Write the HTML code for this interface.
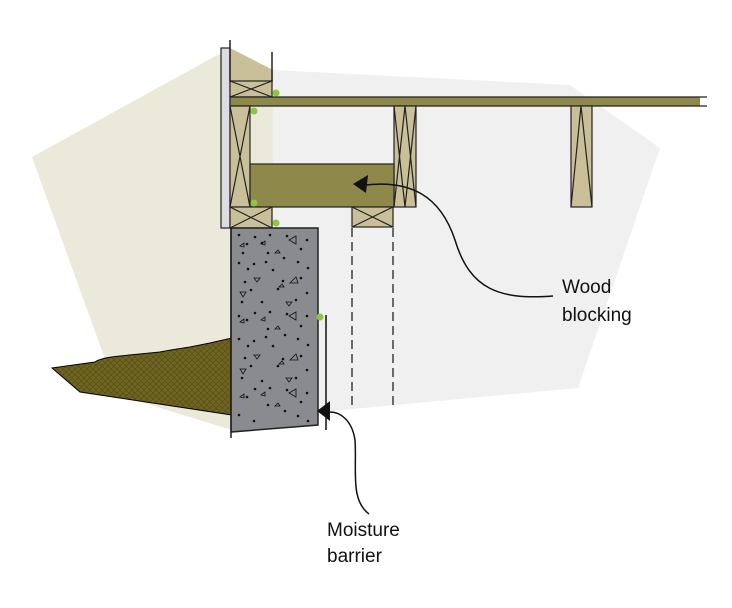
<!DOCTYPE html>
<html><head><style>html,body{margin:0;padding:0;background:#fff;}svg{display:block}</style></head>
<body>
<svg width="732" height="608" viewBox="0 0 732 608" xmlns="http://www.w3.org/2000/svg">
<defs>
<pattern id="ground" width="6" height="6" patternUnits="userSpaceOnUse">
<rect width="6" height="6" fill="#6f6520"/>
<path d="M0 6L6 0M0 0L6 6" stroke="#5a5118" stroke-width="0.8"/>
</pattern>
</defs>
<polygon points="32,157 230,48 275,72 275,400 232,430 118,395" fill="#ebe9da"/>
<polygon points="273,70 570,85 660,148 578,388 320,412 273,412" fill="#eff0ef"/>
<polygon points="230,48 273,70 273,82 230,82" fill="#c9c09a"/>
<path d="M52,368 L95,362 Q100,358 120,356 L160,352 Q170,350 190,347 L210,343 L232,338 L232,415 L80,392 Z" fill="url(#ground)" stroke="#000" stroke-width="1"/>
<rect x="221" y="48" width="9" height="180" fill="#dcdde0" stroke="#222" stroke-width="1.2"/>
<line x1="230" y1="40" x2="230" y2="82" stroke="#222" stroke-width="1.5"/>
<line x1="272" y1="52" x2="272" y2="82" stroke="#222" stroke-width="1.5"/>
<g stroke="#222" stroke-width="1.2" fill="#c9c09a">
<rect x="230" y="81" width="42" height="16"/><path d="M230,81L272,97M272,81L230,97" fill="none"/>
<rect x="230" y="97" width="470" height="9" fill="#8f884b" stroke="none"/>
<path d="M230,97L707,97M230,106L707,106M230,97L230,106" fill="none"/>
<rect x="230" y="106" width="20" height="101"/><path d="M230,106L250,207M250,106L230,207" fill="none"/>
<rect x="394" y="106" width="22" height="101"/><path d="M394,207L405,106L416,207" fill="none"/>
<path d="M394,106L405,207L416,106" fill="none"/>
<rect x="571" y="106" width="21" height="101"/><path d="M571,207L581,106L592,207" fill="none"/>
<rect x="250" y="164" width="144" height="43" fill="#8f884b"/>
<rect x="230" y="207" width="42" height="21"/><path d="M230,207L272,228M272,207L230,228" fill="none"/>
<rect x="352" y="207" width="41" height="20"/><path d="M352,207L393,227M393,207L352,227" fill="none"/>
</g>
<g stroke="#222" stroke-width="1.3" stroke-dasharray="9,5">
<line x1="352" y1="228" x2="352" y2="405"/><line x1="393" y1="228" x2="393" y2="408"/>
</g>
<path d="M231,228 L318,228 L318,425 L231,432 Z" fill="#8a8b8e" stroke="#222" stroke-width="1.5"/>
<line x1="231" y1="228" x2="231" y2="438" stroke="#222" stroke-width="1.5"/>
<g fill="#111" transform="translate(0,0)">
<circle cx="239" cy="235" r="1.3"/><circle cx="255" cy="237" r="1.3"/><circle cx="270" cy="235" r="1.3"/><circle cx="287" cy="236" r="1.3"/><circle cx="307" cy="240" r="1.3"/>
<circle cx="247" cy="244" r="1.3"/><circle cx="262" cy="243" r="1.3"/><circle cx="301" cy="249" r="1.3"/><circle cx="243" cy="253" r="1.3"/><circle cx="268" cy="253" r="1.3"/><circle cx="284" cy="258" r="1.3"/>
<circle cx="239" cy="263" r="1.3"/><circle cx="254" cy="264" r="1.3"/><circle cx="266" cy="262" r="1.3"/><circle cx="298" cy="262" r="1.3"/><circle cx="248" cy="269" r="1.3"/><circle cx="273" cy="270" r="1.3"/><circle cx="308" cy="268" r="1.3"/>
<circle cx="245" cy="282" r="1.3"/><circle cx="283" cy="281" r="1.3"/><circle cx="301" cy="278" r="1.3"/><circle cx="251" cy="290" r="1.3"/><circle cx="278" cy="289" r="1.3"/><circle cx="307" cy="293" r="1.3"/>
<circle cx="242" cy="302" r="1.3"/><circle cx="262" cy="302" r="1.3"/><circle cx="296" cy="300" r="1.3"/><circle cx="255" cy="313" r="1.3"/><circle cx="270" cy="312" r="1.3"/><circle cx="287" cy="314" r="1.3"/><circle cx="307" cy="316" r="1.3"/>
<circle cx="239" cy="316" r="1.3"/><circle cx="247" cy="320" r="1.3"/><circle cx="301" cy="326" r="1.3"/><circle cx="268" cy="329" r="1.3"/><circle cx="285" cy="335" r="1.3"/>
<circle cx="239" cy="339" r="1.3"/><circle cx="254" cy="341" r="1.3"/><circle cx="266" cy="337" r="1.3"/><circle cx="298" cy="339" r="1.3"/><circle cx="248" cy="346" r="1.3"/><circle cx="273" cy="346" r="1.3"/><circle cx="308" cy="345" r="1.3"/>
<circle cx="245" cy="358" r="1.3"/><circle cx="283" cy="359" r="1.3"/><circle cx="301" cy="356" r="1.3"/><circle cx="251" cy="366" r="1.3"/><circle cx="278" cy="366" r="1.3"/><circle cx="307" cy="370" r="1.3"/>
<circle cx="242" cy="378" r="1.3"/><circle cx="262" cy="381" r="1.3"/><circle cx="296" cy="378" r="1.3"/><circle cx="255" cy="389" r="1.3"/><circle cx="270" cy="388" r="1.3"/><circle cx="287" cy="390" r="1.3"/><circle cx="307" cy="393" r="1.3"/>
<circle cx="247" cy="397" r="1.3"/><circle cx="301" cy="402" r="1.3"/><circle cx="268" cy="405" r="1.3"/><circle cx="285" cy="411" r="1.3"/><circle cx="239" cy="415" r="1.3"/><circle cx="254" cy="421" r="1.3"/><circle cx="298" cy="416" r="1.3"/><circle cx="308" cy="421" r="1.3"/>
</g>
<g fill="none" stroke="#111" stroke-width="0.8">
<path d="M240,246l4,-3l0,4z"/><path d="M261,244l4,-3l0,4z"/><path d="M289,240l7,-4l0,8z"/><path d="M275,253l3,-3l2,3z"/><path d="M290,283l6,-6l2,6z"/><path d="M254,278l6,0l-3,4z"/><path d="M240,292l6,0l-3,5z"/><path d="M279,287l3,-3l2,3z"/><path d="M286,302l6,0l-3,4z"/>
<path d="M240,322l4,-3l0,4z"/><path d="M261,320l4,-3l0,4z"/><path d="M289,316l7,-4l0,8z"/><path d="M275,329l3,-3l2,3z"/><path d="M290,360l6,-6l2,6z"/><path d="M254,355l6,0l-3,4z"/><path d="M240,369l6,0l-3,5z"/><path d="M279,364l3,-3l2,3z"/><path d="M286,378l6,0l-3,4z"/>
<path d="M240,397l4,-3l0,4z"/><path d="M261,395l4,-3l0,4z"/><path d="M289,393l7,-4l0,8z"/><path d="M275,406l3,-3l2,3z"/>
</g>
<line x1="326" y1="315" x2="326" y2="430" stroke="#111" stroke-width="1.5"/>
<g fill="#8dc63f">
<circle cx="276" cy="93" r="3.5"/><circle cx="254" cy="111" r="3.5"/><circle cx="254" cy="203" r="3.5"/><circle cx="276" cy="223" r="3.5"/><circle cx="320" cy="317" r="3.5"/>
</g>
<path d="M553,296 C500,300 470,290 455,240 C440,195 410,180 365,185" fill="none" stroke="#111" stroke-width="1.5"/>
<path d="M353,184 L368,175 L366,193 Z" fill="#111"/>
<path d="M369,514 C350,500 357,470 355,440 C352,420 340,412 330,412" fill="none" stroke="#111" stroke-width="1.5"/>
<path d="M317,411 L330,401 L330,421 Z" fill="#111"/>
<g font-family="Liberation Sans, sans-serif" font-size="19" fill="#111">
<text x="562" y="293">Wood</text><text x="562" y="321">blocking</text>
<text x="327" y="536">Moisture</text><text x="327" y="562">barrier</text>
</g>
</svg>
</body></html>
